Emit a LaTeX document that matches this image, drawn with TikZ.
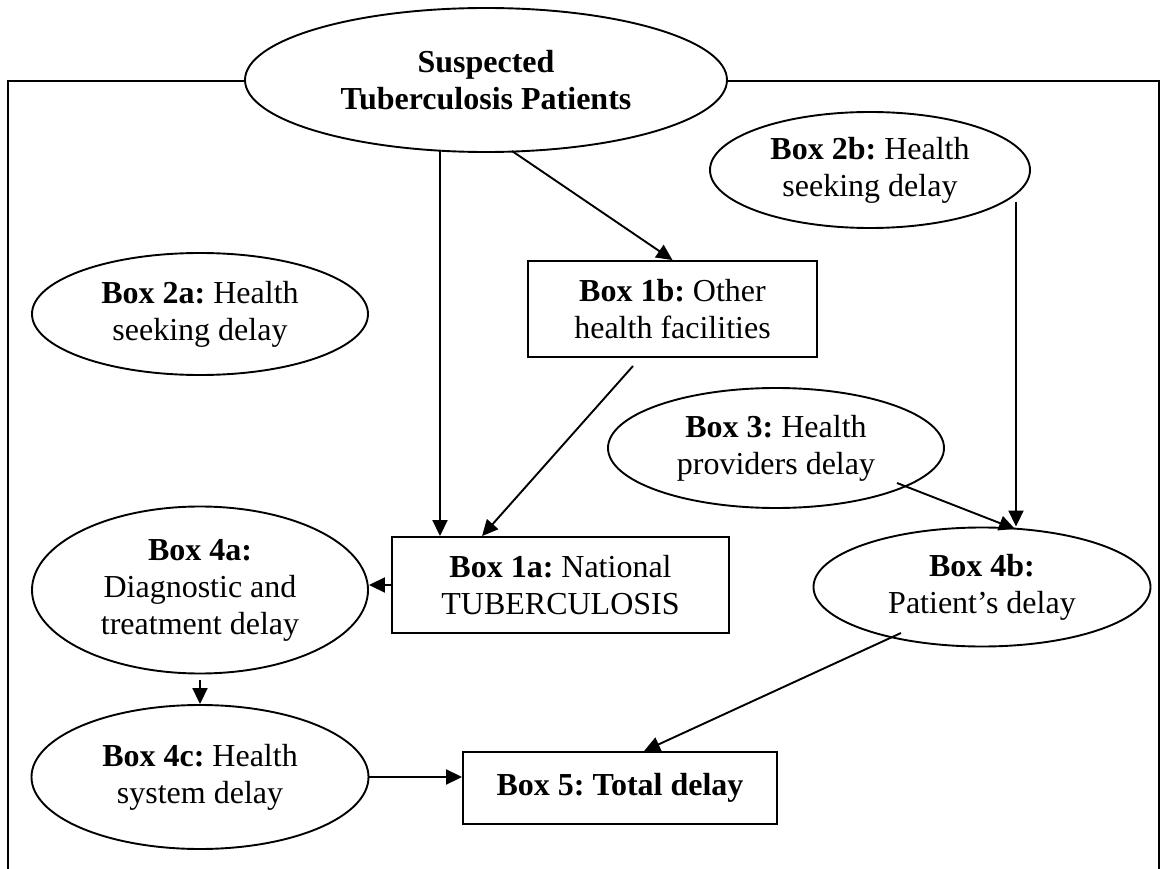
\documentclass[tikz,border=0pt]{standalone}
\usepackage{fontspec}
\setmainfont{Liberation Serif}
\usetikzlibrary{shapes.geometric,arrows.meta,calc}
\frenchspacing

\tikzset{
  every node/.style={font=\fontsize{32}{37}\selectfont, align=center, inner sep=0pt},
  oval/.style={ellipse, draw, fill=white, line width=1.9pt},
  rectbox/.style={rectangle, draw, fill=white, line width=1.9pt},
  arr/.style={line width=1.9pt, -{Triangle[length=16pt,width=15pt]}},
  frameline/.style={line width=1.9pt}
}

\begin{document}
\begin{tikzpicture}[x=1pt,y=-1pt]
\useasboundingbox (0,0) rectangle (1163,869);

% open frame behind the top ellipse
\draw[frameline] (8,869) -- (8,81) -- (1159,81) -- (1159,869);

% nodes
\node[oval, minimum width=482pt, minimum height=144pt] (top) at (486,80)
  {\textbf{Suspected}\\\textbf{Tuberculosis Patients}};
\node[oval, minimum width=320pt, minimum height=116pt] (b2b) at (870,170)
  {\textbf{Box 2b:} Health\\seeking delay};
\node[oval, minimum width=336pt, minimum height=122pt] (b2a) at (200,314)
  {\textbf{Box 2a:} Health\\seeking delay};
\node[rectbox, minimum width=289pt, minimum height=96pt] (b1b) at (672.5,309)
  {\textbf{Box 1b:} Other\\health facilities};
\node[oval, minimum width=336pt, minimum height=120pt] (b3) at (776,448)
  {\textbf{Box 3:} Health\\providers delay};
\node[oval, minimum width=337pt, minimum height=119pt] (b4b) at (982,587)
  {\textbf{Box 4b:}\\Patient’s delay};
\node[rectbox, minimum width=337pt, minimum height=96pt] (b1a) at (560.5,585)
  {\textbf{Box 1a:} National\\TUBERCULOSIS};
\node[oval, minimum width=336pt, minimum height=167pt] (b4a) at (200,590)
  {\textbf{Box 4a:}\\Diagnostic and\\treatment delay};
\node[oval, minimum width=337pt, minimum height=144pt] (b4c) at (200,777)
  {\textbf{Box 4c:} Health\\system delay};
\node[rectbox, minimum width=314pt, minimum height=72pt] (b5) at (620,788)
  {\textbf{Box 5: Total delay}};

% free ends of connectors
\coordinate (t1) at (440,151);
\coordinate (t2) at (512,151);
\coordinate (f1) at (633,366);
\coordinate (s2b) at (1016,202);
\coordinate (s3) at (897,483);
\coordinate (m4b) at (1015,529);
\coordinate (s4a) at (200,680);
\coordinate (s4b) at (901,633);

% connectors
\draw[arr] (t1) -- (t1 |- b1a.north);
\draw[arr] (t2) -- (b1b.north);
\draw[arr] (f1) -- ($(b1a.north west)+(91,0)$);
\draw[arr] (s2b) -- (s2b |- b4b.north);
\draw[arr] (s3) -- (m4b);
\draw[arr] (b1a.west) -- (b1a.west -| b4a.east);
\draw[arr] (s4a) -- (b4c.north);
\draw[arr] (b4c.east) -- (b4c.east -| b5.west);
\draw[arr] (s4b) -- ($(b5.north west)+(182,0)$);
\end{tikzpicture}
\end{document}
